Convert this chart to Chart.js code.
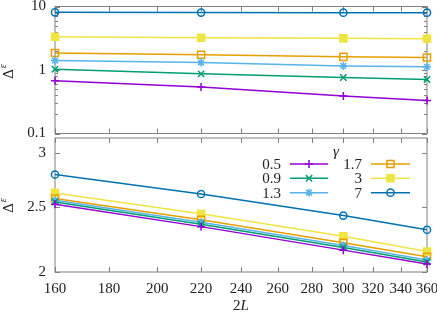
<!DOCTYPE html>
<html>
<head>
<meta charset="utf-8">
<script src="https://cdn.jsdelivr.net/npm/chart.js@4.4.1/dist/chart.umd.min.js"></script>
<style>
  body { margin: 0; background: #fff; }
  #wrap { position: relative; width: 437px; height: 312px; }
  canvas { position: absolute; left: 0; }
</style>
</head>
<body>
<div id="wrap">
  <canvas id="topChart" width="437" height="140" style="top:0"></canvas>
  <canvas id="bottomChart" width="437" height="182" style="top:130px"></canvas>
</div>
<script>
// data
const sizes = [160, 220, 300, 360];          // 2L
const gammas = ['0.5', '0.9', '1.3', '1.7', '3', '7'];

// upper panel (log scale)
const topG05 = [0.68, 0.54, 0.39, 0.33];
const topG09 = [1.03, 0.87, 0.76, 0.71];
const topG13 = [1.41, 1.31, 1.16, 1.12];
const topG17 = [1.85, 1.74, 1.61, 1.57];
const topG3  = [3.34, 3.22, 3.15, 3.10];
const topG7  = [8.10, 8.03, 8.00, 8.00];

// lower panel
const botG05 = [2.52, 2.335, 2.155, 2.055];
const botG09 = [2.54, 2.355, 2.175, 2.07];
const botG13 = [2.555, 2.37, 2.19, 2.083];
const botG17 = [2.57, 2.39, 2.21, 2.107];
const botG3  = [2.62, 2.44, 2.26, 2.145];
const botG7  = [2.79, 2.61, 2.425, 2.31];

const xTicks = [160, 180, 200, 220, 240, 260, 280, 300, 320, 340, 360];
const topYTicks = [0.1, 1, 10];
const topYMinor = [0.2, 0.3, 0.4, 0.5, 0.6, 0.7, 0.8, 0.9, 2, 3, 4, 5, 6, 7, 8, 9];
const botYTicks = [2, 2.5, 3];

// gnuplot-like styles
const colors = ['#9400D3', '#009E73', '#56B4E9', '#E69F00', '#F0E442', '#0072B2'];
const markers = ['cross', 'crossRot', 'star', 'rect', 'rect', 'circle'];
const filled = [false, false, false, false, true, false];
const radii = [4, 4.5, 4, 5, 5, 3.6];

const FONT = '"Liberation Serif", "DejaVu Serif", serif';
const AXIS = '#808080';
const TEXT = '#222';

function makeSets(series) {
  return series.map((vals, i) => ({
    label: gammas[i],
    data: sizes.map((s, k) => ({ x: s, y: vals[k] })),
    borderColor: colors[i],
    backgroundColor: filled[i] ? colors[i] : 'rgba(0,0,0,0)',
    borderWidth: 1.5,
    pointStyle: markers[i],
    pointRadius: radii[i],
    pointBorderWidth: 1.5,
    pointBorderColor: colors[i],
    pointBackgroundColor: filled[i] ? colors[i] : 'rgba(0,0,0,0)',
    tension: 0,
    clip: false,
  }));
}

// box with inward ticks on all four sides
const framePlugin = {
  id: 'frame',
  beforeDatasetsDraw(chart, args, opts) {
    const { ctx, chartArea: a, scales } = chart;
    const x = scales.x, y = scales.y;
    ctx.save();
    ctx.strokeStyle = AXIS;
    ctx.lineWidth = 1;
    ctx.strokeRect(a.left, a.top, a.right - a.left, a.bottom - a.top);
    ctx.beginPath();
    xTicks.forEach(v => {
      const px = Math.round(x.getPixelForValue(v)) + 0.5;
      ctx.moveTo(px, a.bottom); ctx.lineTo(px, a.bottom - 5);
      ctx.moveTo(px, a.top); ctx.lineTo(px, a.top + 5);
    });
    const yTick = (v, len) => {
      const py = Math.round(y.getPixelForValue(v)) + 0.5;
      ctx.moveTo(a.left, py); ctx.lineTo(a.left + len, py);
      ctx.moveTo(a.right, py); ctx.lineTo(a.right - len, py);
    };
    (opts.major || []).forEach(v => yTick(v, 5));
    (opts.minor || []).forEach(v => yTick(v, 3));
    ctx.stroke();
    ctx.restore();
  }
};

// rotated Δ^ε title
function drawYTitle(ctx, cx, cy) {
  ctx.save();
  ctx.translate(cx, cy);
  ctx.rotate(-Math.PI / 2);
  ctx.fillStyle = TEXT;
  ctx.textBaseline = 'alphabetic';
  ctx.font = '15px ' + FONT;
  const w = ctx.measureText('Δ').width;
  ctx.fillText('Δ', -w / 2 - 3, 0);
  ctx.font = 'italic 10px ' + FONT;
  ctx.fillText('ε', w / 2 - 2, -7);
  ctx.restore();
}

const topTitle = {
  id: 'topTitle',
  afterDraw(chart) { drawYTitle(chart.ctx, 13, 71); }
};

const bottomDecor = {
  id: 'bottomDecor',
  afterDraw(chart) {
    const ctx = chart.ctx;
    const off = 130;
    drawYTitle(ctx, 13, 205 - off);

    // x title 2L
    ctx.save();
    ctx.fillStyle = TEXT;
    ctx.textBaseline = 'alphabetic';
    ctx.font = '15px ' + FONT;
    const w2 = ctx.measureText('2').width;
    ctx.font = 'italic 15px ' + FONT;
    const wL = ctx.measureText('L').width;
    const sx = 241 - (w2 + wL) / 2;
    ctx.font = '15px ' + FONT;
    ctx.fillText('2', sx, 310 - off);
    ctx.font = 'italic 15px ' + FONT;
    ctx.fillText('L', sx + w2, 310 - off);

    // legend
    ctx.fillText('γ', 333, 156 - off);
    const rows = [164, 178.3, 192.7];
    const cols = [{ text: 281, l0: 290, l1: 328 }, { text: 362, l0: 371, l1: 410 }];
    ctx.font = '15px ' + FONT;
    ctx.textAlign = 'right';
    ctx.textBaseline = 'middle';
    gammas.forEach((g, i) => {
      const c = cols[Math.floor(i / 3)];
      const yy = rows[i % 3] - off;
      ctx.fillStyle = TEXT;
      ctx.fillText(g, c.text, yy + 1);
      ctx.strokeStyle = colors[i];
      ctx.lineWidth = 1.5;
      ctx.beginPath();
      ctx.moveTo(c.l0, yy); ctx.lineTo(c.l1, yy);
      ctx.stroke();
      ctx.fillStyle = filled[i] ? colors[i] : 'rgba(0,0,0,0)';
      Chart.helpers.drawPoint(ctx, {
        pointStyle: markers[i], radius: radii[i], rotation: 0, borderWidth: 1.5
      }, (c.l0 + c.l1) / 2, yy);
    });
    ctx.restore();
  }
};

function fixPad(s) {
  s.paddingLeft = 0; s.paddingRight = 0; s.paddingTop = 0; s.paddingBottom = 0;
}

const tickFont = { family: FONT, size: 15 };

new Chart(document.getElementById('topChart'), {
  type: 'line',
  data: { datasets: makeSets([topG05, topG09, topG13, topG17, topG3, topG7]) },
  options: {
    responsive: false,
    animation: false,
    layout: { padding: { left: 0, right: 10, top: 6, bottom: 2 } },
    plugins: {
      legend: { display: false },
      tooltip: { enabled: false },
      frame: { major: topYTicks, minor: topYMinor },
    },
    scales: {
      x: {
        type: 'logarithmic', min: 160, max: 360, display: false,
      },
      y: {
        type: 'logarithmic', min: 0.1, max: 10,
        grid: { display: false, drawTicks: false },
        border: { display: false },
        afterBuildTicks: s => { s.ticks = topYTicks.map(v => ({ value: v })); },
        afterFit: s => { s.width = 55; fixPad(s); },
        ticks: { font: tickFont, color: TEXT, padding: 9, callback: v => String(v) },
      },
    },
  },
  plugins: [framePlugin, topTitle],
});

new Chart(document.getElementById('bottomChart'), {
  type: 'line',
  data: { datasets: makeSets([botG05, botG09, botG13, botG17, botG3, botG7]) },
  options: {
    responsive: false,
    animation: false,
    layout: { padding: { left: 0, right: 10, top: 8, bottom: 0 } },
    plugins: {
      legend: { display: false },
      tooltip: { enabled: false },
      frame: { major: botYTicks, minor: [] },
    },
    scales: {
      x: {
        type: 'logarithmic', min: 160, max: 360,
        grid: { display: false, drawTicks: false },
        border: { display: false },
        afterBuildTicks: s => { s.ticks = xTicks.map(v => ({ value: v })); },
        afterFit: s => { s.height = 40; fixPad(s); },
        ticks: { font: tickFont, color: TEXT, padding: 8, maxRotation: 0, autoSkip: false, callback: v => String(v) },
      },
      y: {
        type: 'logarithmic', min: 2, max: 3.16,
        grid: { display: false, drawTicks: false },
        border: { display: false },
        afterBuildTicks: s => { s.ticks = botYTicks.map(v => ({ value: v })); },
        afterFit: s => { s.width = 55; fixPad(s); },
        ticks: { font: tickFont, color: TEXT, padding: 9, callback: v => String(v) },
      },
    },
  },
  plugins: [framePlugin, bottomDecor],
});
</script>
</body>
</html>
